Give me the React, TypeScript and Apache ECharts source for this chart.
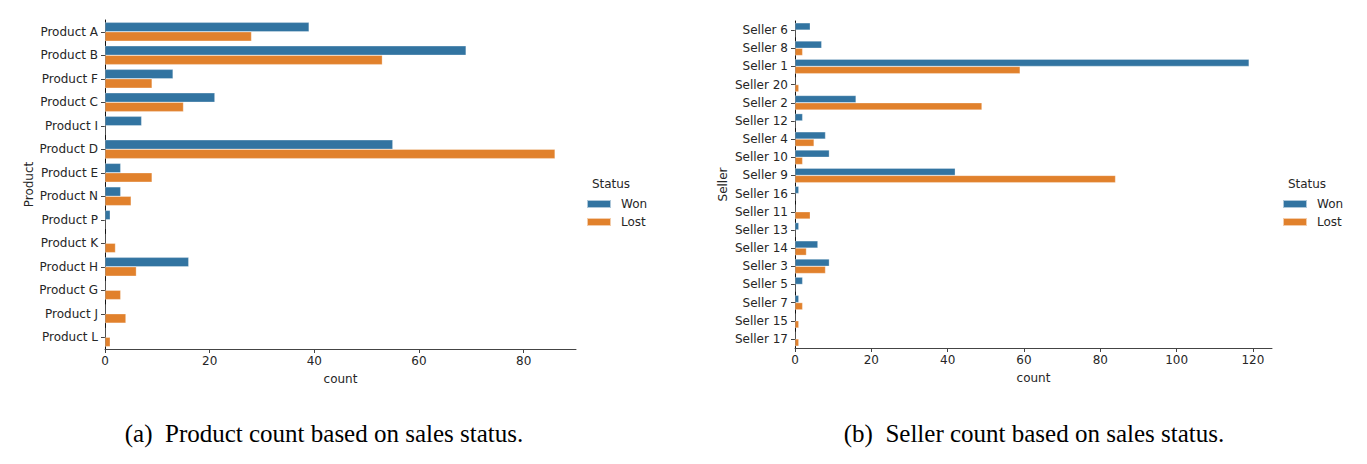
import React, { useEffect, useRef } from "react";
import * as echarts from "echarts";

const products = ["Product A", "Product B", "Product F", "Product C", "Product I", "Product D", "Product E", "Product N", "Product P", "Product K", "Product H", "Product G", "Product J", "Product L"];
const productWon = [39, 69, 13, 21, 7, 55, 3, 3, 1, 0, 16, 0, 0, 0];
const productLost = [28, 53, 9, 15, 0, 86, 9, 5, 0, 2, 6, 3, 4, 1];

const sellers = ["Seller 6", "Seller 8", "Seller 1", "Seller 20", "Seller 2", "Seller 12", "Seller 4", "Seller 10", "Seller 9", "Seller 16", "Seller 11", "Seller 13", "Seller 14", "Seller 3", "Seller 5", "Seller 7", "Seller 15", "Seller 17"];
const sellerWon = [4, 7, 119, 0, 16, 2, 8, 9, 42, 1, 0, 1, 6, 9, 2, 1, 0, 0];
const sellerLost = [0, 2, 59, 1, 49, 0, 5, 2, 84, 0, 4, 0, 3, 8, 0, 2, 1, 1];

const productTicks = [0, 20, 40, 60, 80];
const sellerTicks = [0, 20, 40, 60, 80, 100, 120];

const captionA = "(a)  Product count based on sales status.";
const captionB = "(b)  Seller count based on sales status.";

const BLUE = "#3274a1";
const ORANGE = "#e1812c";
const TXT = "#262626";
const FONT = "DejaVu Sans";

function xAxis(gridIndex: number, max: number, ticks: number[]) {
  return {
    type: "value",
    gridIndex,
    min: 0,
    max,
    name: "count",
    nameLocation: "middle",
    nameGap: 24,
    nameTextStyle: { color: TXT, fontSize: 12, fontFamily: FONT },
    splitLine: { show: false },
    axisLine: { show: true, lineStyle: { color: "#444", width: 1 } },
    axisTick: { show: true, length: 4, lineStyle: { color: "#444" }, customValues: ticks },
    axisLabel: { color: TXT, fontSize: 12, fontFamily: FONT, margin: 6, customValues: ticks },
  };
}

function yAxis(gridIndex: number, data: string[], name: string, gap: number) {
  return {
    type: "category",
    gridIndex,
    data,
    inverse: true,
    name,
    nameLocation: "middle",
    nameRotate: 90,
    nameGap: gap,
    nameTextStyle: { color: TXT, fontSize: 12, fontFamily: FONT },
    axisLine: { show: true, lineStyle: { color: "#111", width: 1 } },
    axisTick: { show: true, length: 4, alignWithLabel: true, lineStyle: { color: "#444" } },
    axisLabel: { color: TXT, fontSize: 12, fontFamily: FONT, margin: 7, interval: 0 },
  };
}

function bar(name: string, idx: number, data: number[], color: string) {
  return {
    type: "bar",
    name,
    xAxisIndex: idx,
    yAxisIndex: idx,
    data,
    barCategoryGap: "20%",
    barGap: "0%",
    itemStyle: { color, borderColor: "rgba(255,255,255,0.6)", borderWidth: 0.5 },
  };
}

function legend(left: number) {
  return {
    left,
    top: 193,
    orient: "vertical",
    icon: "rect",
    itemWidth: 24,
    itemHeight: 8,
    itemGap: 6,
    data: ["Won", "Lost"],
    textStyle: { color: TXT, fontSize: 12, fontFamily: FONT, padding: [0, 0, 0, 5] },
    selectedMode: false,
  };
}

export default function App() {
  const ref = useRef<HTMLDivElement>(null);
  useEffect(() => {
    if (!ref.current) return;
    const chart = echarts.init(ref.current, undefined, { renderer: "svg" });
    chart.setOption({
      animation: false,
      backgroundColor: "#ffffff",
      grid: [
        { left: 105, top: 20, width: 471, height: 329 },
        { left: 795, top: 21, width: 477, height: 327 },
      ],
      xAxis: [xAxis(0, 90, productTicks), xAxis(1, 125, sellerTicks)],
      yAxis: [yAxis(0, products, "Product", 70), yAxis(1, sellers, "Seller", 66)],
      legend: [legend(581), legend(1277)],
      series: [
        bar("Won", 0, productWon, BLUE),
        bar("Lost", 0, productLost, ORANGE),
        bar("Won", 1, sellerWon, BLUE),
        bar("Lost", 1, sellerLost, ORANGE),
      ],
      graphic: [
        { type: "text", x: 611, y: 184, style: { text: "Status", fill: TXT, font: `12px "${FONT}"`, align: "center", verticalAlign: "middle" } },
        { type: "text", x: 1307, y: 184, style: { text: "Status", fill: TXT, font: `12px "${FONT}"`, align: "center", verticalAlign: "middle" } },
        { type: "text", x: 324, y: 433, style: { text: captionA, fill: "#000", font: `25px "Liberation Serif"`, align: "center", verticalAlign: "middle" } },
        { type: "text", x: 1034, y: 433, style: { text: captionB, fill: "#000", font: `25px "Liberation Serif"`, align: "center", verticalAlign: "middle" } },
      ],
    });
    return () => chart.dispose();
  }, []);
  return <div ref={ref} style={{ position: "fixed", left: 0, top: 0, width: 1367, height: 464 }} />;
}
